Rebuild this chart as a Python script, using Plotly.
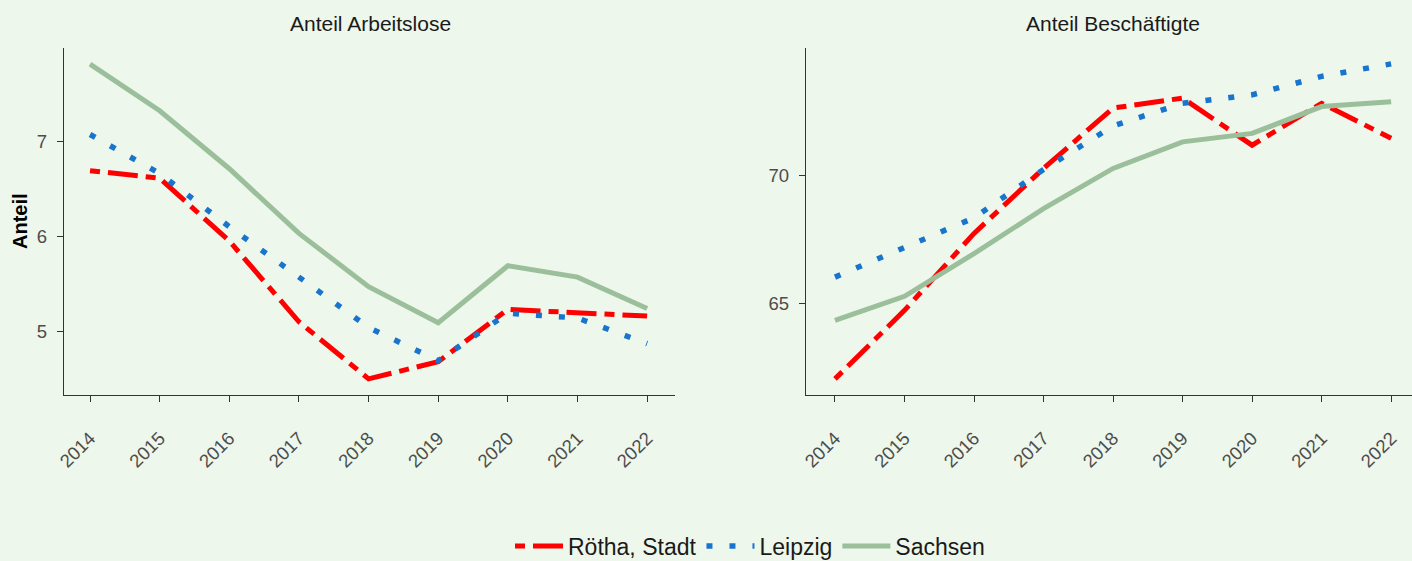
import plotly.graph_objects as go

years = [2014, 2015, 2016, 2017, 2018, 2019, 2020, 2021, 2022]
tick_labels = [str(y) for y in years]

# Anteil Arbeitslose
al_roetha = [6.69, 6.61, 5.95, 5.10, 4.50, 4.68, 5.23, 5.19, 5.16]
al_leipzig = [7.07, 6.66, 6.10, 5.57, 5.04, 4.69, 5.19, 5.14, 4.87]
al_sachsen = [7.81, 7.32, 6.71, 6.03, 5.47, 5.09, 5.69, 5.57, 5.24]

# Anteil Beschäftigte
be_roetha = [62.06, 64.74, 67.75, 70.29, 72.65, 73.04, 71.20, 72.84, 71.47]
be_leipzig = [66.04, 67.18, 68.36, 70.25, 71.95, 72.84, 73.17, 73.89, 74.38]
be_sachsen = [64.35, 65.29, 66.96, 68.72, 70.29, 71.33, 71.66, 72.71, 72.90]

series_names = ["Rötha, Stadt", "Leipzig", "Sachsen"]
panel_titles = ["Anteil Arbeitslose", "Anteil Beschäftigte"]

W, H = 1412, 561
BG = "#EDF7EB"
RED = "#FF0000"
BLUE = "#1874CD"
GREEN = "#9BBF9B"

styles = {
    "Rötha, Stadt": dict(color=RED, width=5, dash="10px,8px,30px,8px"),
    "Leipzig": dict(color=BLUE, width=5.5, dash="6px,17px"),
    "Sachsen": dict(color=GREEN, width=5, dash="solid"),
}

fig = go.Figure()

panels = [
    ("x", "y", [al_roetha, al_leipzig, al_sachsen]),
    ("x2", "y2", [be_roetha, be_leipzig, be_sachsen]),
]
for pi, (xa, ya, data) in enumerate(panels):
    for name, vals in zip(series_names, data):
        fig.add_trace(go.Scatter(
            x=years, y=vals, mode="lines", name=name,
            line=styles[name], xaxis=xa, yaxis=ya,
            showlegend=(pi == 0), legendgroup=name,
        ))

def px_x(p):
    return p / W

def px_y(p):
    return 1 - p / H

ydom = [px_y(395), px_y(48)]
tickfont = dict(family="Liberation Sans, Arial", size=18.5, color="#4D4D4D")
common_x = dict(
    tickmode="array", tickvals=years, ticktext=tick_labels, tickangle=-45,
    ticks="outside", ticklen=6, tickwidth=1.3, tickcolor="#333333",
    showline=True, linecolor="#333333", linewidth=1.3,
    showgrid=False, zeroline=False, tickfont=tickfont,
    ticklabelstandoff=18, automargin=False,
)
common_y = dict(
    ticks="outside", ticklen=6, tickwidth=1.3, tickcolor="#333333",
    showline=True, linecolor="#333333", linewidth=1.3,
    showgrid=False, zeroline=False, tickfont=tickfont,
    ticklabelstandoff=6, automargin=False,
)

fig.update_layout(
    width=W, height=H, autosize=False,
    paper_bgcolor=BG, plot_bgcolor=BG,
    margin=dict(l=0, r=0, t=0, b=0, autoexpand=False),
    xaxis=dict(domain=[px_x(64), px_x(675)], range=[2013.626, 2022.40], anchor="y", **common_x),
    yaxis=dict(domain=ydom, range=[4.33, 7.98], tickvals=[5, 6, 7], anchor="x", **common_y),
    xaxis2=dict(domain=[px_x(806), 1.0], range=[2013.583, 2022.30], anchor="y2", **common_x),
    yaxis2=dict(domain=ydom, range=[61.43, 75.0], tickvals=[65, 70], anchor="x2", **common_y),
    legend=dict(
        orientation="h", x=px_x(750), xanchor="center", y=px_y(546), yanchor="middle",
        font=dict(family="Liberation Sans, Arial", size=23, color="#1A1A1A"),
        bgcolor="rgba(0,0,0,0)", itemwidth=48,
    ),
    showlegend=True,
)

annotations = [
    dict(text=panel_titles[0], x=px_x(370), y=px_y(24), xref="paper", yref="paper",
         showarrow=False, xanchor="center", yanchor="middle",
         font=dict(family="Liberation Sans, Arial", size=21, color="#1A1A1A")),
    dict(text=panel_titles[1], x=px_x(1113), y=px_y(24), xref="paper", yref="paper",
         showarrow=False, xanchor="center", yanchor="middle",
         font=dict(family="Liberation Sans, Arial", size=21, color="#1A1A1A")),
    dict(text="<b>Anteil</b>", x=px_x(20), y=px_y(221), xref="paper", yref="paper",
         showarrow=False, xanchor="center", yanchor="middle", textangle=-90,
         font=dict(family="Liberation Sans, Arial", size=20, color="#000000")),
]
fig.update_layout(annotations=annotations)

post = (
    "document.body.style.margin='0';document.body.style.padding='0';"
    "document.body.style.background='" + BG + "';"
    "var gd=document.getElementById('{plot_id}');"
    "Plotly.relayout(gd,{width:1412,height:561});"
)
fig.write_html("out.html", post_script=post,
               config={"responsive": False, "displayModeBar": False})
